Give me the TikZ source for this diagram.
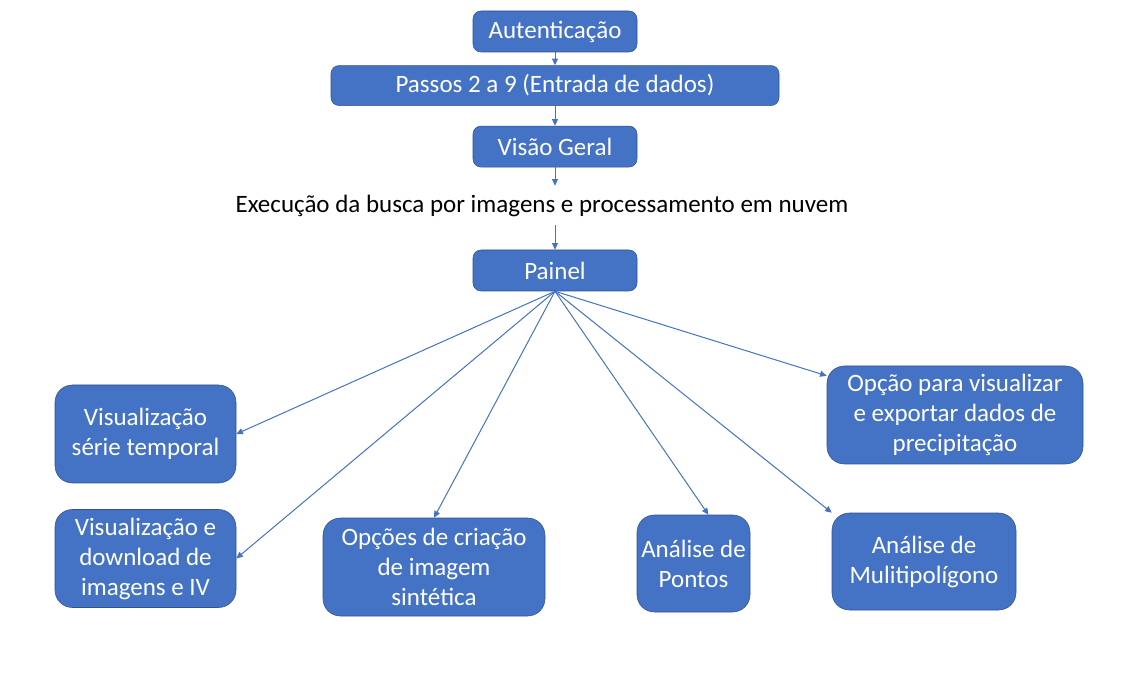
\documentclass[tikz,border=0pt]{standalone}
\usepackage{fontspec}
\setmainfont{Carlito}
\usetikzlibrary{arrows.meta,positioning,calc}
\definecolor{boxblue}{HTML}{4472C4}
\definecolor{boxedge}{HTML}{2F528F}

\begin{document}
\begin{tikzpicture}[x=0.75pt, y=-0.75pt, >={Triangle[length=5pt,width=4.5pt]},
  every node/.style={font=\fontsize{18.75}{22.5}\selectfont},
  stage/.style={draw=boxedge, fill=boxblue, text=white, rounded corners=6pt, minimum height=30.75pt, inner sep=2pt, align=center},
  panel/.style={draw=boxedge, fill=boxblue, text=white, rounded corners=13pt, minimum height=73.5pt, inner sep=2pt, align=center},
  link/.style={->, draw=boxblue, line width=0.75pt}]
  \useasboundingbox (0,0) rectangle (1140,695);

  \node[stage, minimum width=123pt] (auth) at (555,31.5) {Autenticação};
  \node[stage, minimum width=336pt, minimum height=30pt, below=9.75pt of auth] (passos) {Passos 2 a 9 (Entrada de dados)};
  \node[stage, minimum width=123pt, below=15pt of passos] (visao) {Visão Geral};
  \node[minimum height=29.25pt, inner sep=0pt] (busca) at (542,205.5) {Execução da busca por imagens e processamento em nuvem};
  \node[stage, minimum width=123pt] (painel) at (555,270.5) {Painel};

  \node[panel, minimum width=135.75pt] (serie) at (145.5,434) {Visualização\\série temporal};
  \node[panel, minimum width=135.75pt] (download) at (145.5,558.5) {Visualização e\\download de\\imagens e IV};
  \node[panel, minimum width=166.5pt] (criacao) at (434,567) {Opções de criação\\de imagem\\sintética};
  \node[panel, minimum width=84.75pt, minimum height=72.75pt] (pontos) at (693.5,563.5) {Análise de\\Pontos};
  \node[panel, minimum width=138pt, minimum height=72.75pt] (multi) at (924,561.5) {Análise de\\Mulitipolígono};
  \node[panel, minimum width=192pt] (precip) at (955,415) {Opção para visualizar\\e exportar dados de\\precipitação};

  \draw[link] (auth) -- (passos);
  \draw[link] (passos) -- (visao);
  \draw[link] (visao) -- (visao.south |- busca.north);
  \draw[link] (painel.north |- busca.south) -- (painel);
  \draw[link] (painel.south) -- (serie.east);
  \draw[link] (painel.south) -- (download.east);
  \draw[link] (painel.south) -- (criacao.north);
  \draw[link] (painel.south) -- (pontos.73);
  \draw[link] (painel.south) -- (multi.north west);
  \draw[link] (painel.south) -- (precip.163);
\end{tikzpicture}
\end{document}
